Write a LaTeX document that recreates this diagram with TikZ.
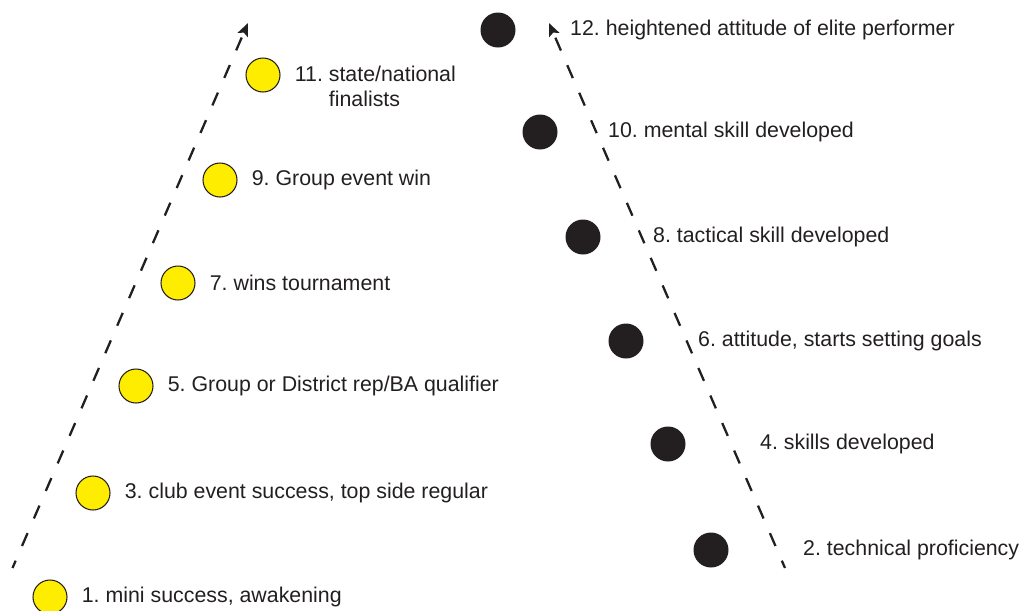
\documentclass[tikz,border=0pt]{standalone}
\usepackage{fontspec}
\setmainfont{Liberation Sans}
\usetikzlibrary{positioning,arrows.meta}
\definecolor{dotyellow}{RGB}{255,237,0}
\definecolor{inkblack}{RGB}{35,31,32}
\frenchspacing

\begin{document}
\begin{tikzpicture}[x=0.02cm, y=-0.02cm, every node/.style={inner sep=0pt, text=inkblack, font=\fontsize{12.15}{14.2}\selectfont}, ydot/.style={circle, draw=inkblack, line width=0.6pt, fill=dotyellow, minimum size=0.68cm}, bdot/.style={circle, fill=inkblack, minimum size=0.7cm}, trail/.style={draw=inkblack, line width=1.3pt, dash pattern=on 0.28cm off 0.32cm, dash phase=0.12cm, -{Stealth[length=0.26cm, width=0.22cm, inset=0.05cm]}}]
        \useasboundingbox (0,0) rectangle (1025,610);

        % rising results (yellow)
        \node[ydot] (y1) at (50,597) {};
        \node[ydot] (y3) at (93,493) {};
        \node[ydot] (y5) at (136,386) {};
        \node[ydot] (y7) at (178,283) {};
        \node[ydot] (y9) at (220,180) {};
        \node[ydot] (y11) at (263,75) {};
        \node (t1) [right=0.28cm of y1] {1. mini success, awakening};
        \node (t3) [right=0.28cm of y3] {3. club event success, top side regular};
        \node (t5) [right=0.28cm of y5] {5. Group or District rep/BA qualifier};
        \node (t7) [right=0.28cm of y7] {7. wins tournament};
        \node (t9) [right=0.28cm of y9] {9. Group event win};
        \node (t11) [right=0.28cm of y11, yshift=-0.22cm, align=left] {11. state/national\\\phantom{11. }finalists};

        % developing skills (black)
        \node[bdot] (b2) at (711,550) {};
        \node[bdot] (b4) at (668,444) {};
        \node[bdot] (b6) at (626,341) {};
        \node[bdot] (b8) at (583,237) {};
        \node[bdot] (b10) at (540,132) {};
        \node[bdot] (b12) at (498,30) {};
        \node (t2) [right=1.48cm of b2] {2. technical proficiency};
        \node (t4) [right=1.48cm of b4] {4. skills developed};
        \node (t6) [right=1.08cm of b6] {6. attitude, starts setting goals};
        \node (t8) [right=1.04cm of b8] {8. tactical skill developed};
        \node (t10) [right=1.0cm of b10] {10. mental skill developed};
        \node (t12) [right=1.08cm of b12] {12. heightened attitude of elite performer};

        \coordinate (lbase) at (12.5,568);
        \coordinate (ltop) at (248,23);
        \coordinate (rbase) at (785,568);
        \coordinate (rtop) at (549,23);
        \draw[trail] (lbase) -- (ltop);
        \draw[trail] (rbase) -- (rtop);
    \end{tikzpicture}
\end{document}
